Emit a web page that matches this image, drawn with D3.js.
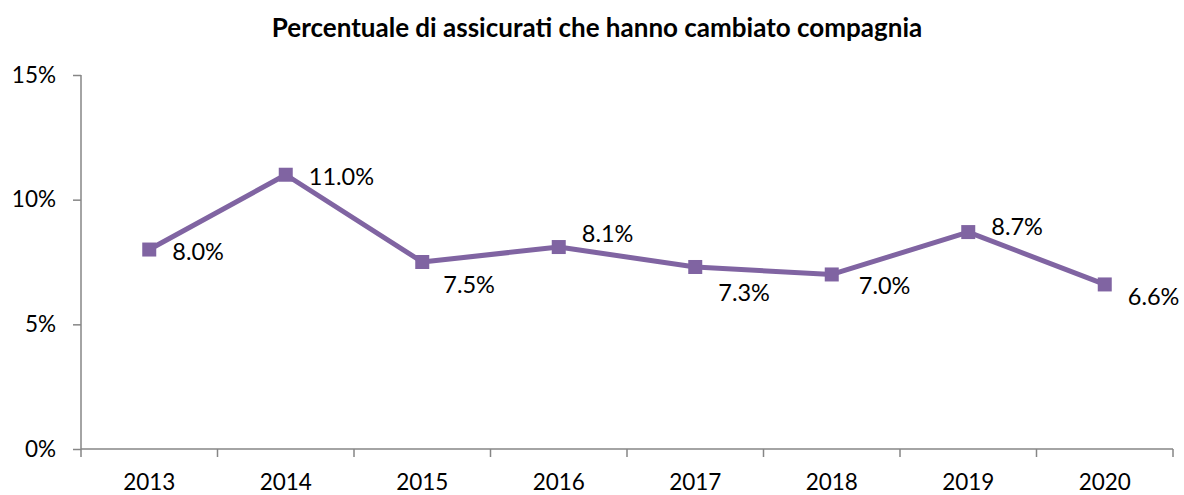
<!DOCTYPE html>
<html>
<head>
<meta charset="utf-8">
<script src="https://cdn.jsdelivr.net/npm/d3@7"></script>
<style>
  body { margin: 0; background: #fff; }
  svg text { font-family: Lato, "Open Sans", sans-serif; fill: #000; }
</style>
</head>
<body>
<div id="chart"></div>
<script>
// chart data
const years = ["2013", "2014", "2015", "2016", "2017", "2018", "2019", "2020"];
const switched = [8.0, 11.0, 7.5, 8.1, 7.3, 7.0, 8.7, 6.6];
const yTicks = [0, 5, 10, 15];
const title = "Percentuale di assicurati che hanno cambiato compagnia";

// label nudges, Excel places them by hand so each one differs
const labelNudge = [[23, 2], [23, 2], [21, 23], [23, -13], [23, 26], [27, 11], [23, -5], [23, 12]];

const W = 1184, H = 495;
const margin = { top: 75, right: 11, bottom: 46, left: 81 };
const purple = "#8064a2";
const axisGrey = "#868686";

const svg = d3.select("#chart").append("svg")
  .attr("width", W)
  .attr("height", H);

const x = d3.scaleBand()
  .domain(years)
  .range([margin.left, W - margin.right]);

const y = d3.scaleLinear()
  .domain([0, 15])
  .range([H - margin.bottom, margin.top]);

// title
svg.append("text")
  .attr("x", 597)
  .attr("y", 37)
  .attr("text-anchor", "middle")
  .style("font-size", "26px")
  .style("font-weight", "bold")
  .text(title);

// y axis
const yAxis = svg.append("g")
  .attr("transform", "translate(" + margin.left + ",0)")
  .call(d3.axisLeft(y).tickValues(yTicks).tickSize(8).tickPadding(17)
    .tickFormat(d => d + "%"));

// x axis, ticks sit on category edges
const edges = years.map(d => x(d)).concat([x.range()[1]]);
const xAxis = svg.append("g")
  .attr("transform", "translate(0," + y(0) + ")");
xAxis.append("line")
  .attr("x1", x.range()[0]).attr("x2", x.range()[1])
  .attr("stroke", axisGrey).attr("stroke-width", 1.5);
xAxis.selectAll("line.edge")
  .data(edges)
  .enter().append("line")
  .attr("class", "edge")
  .attr("x1", d => d).attr("x2", d => d)
  .attr("y1", 0).attr("y2", 8)
  .attr("stroke", axisGrey).attr("stroke-width", 1.5);
xAxis.selectAll("text")
  .data(years)
  .enter().append("text")
  .attr("x", d => x(d) + x.bandwidth() / 2)
  .attr("y", 41)
  .attr("text-anchor", "middle")
  .style("font-size", "22.5px")
  .text(d => d);

yAxis.select(".domain").attr("stroke", axisGrey).attr("stroke-width", 1.5);
yAxis.selectAll(".tick line").attr("stroke", axisGrey).attr("stroke-width", 1.5);
yAxis.selectAll(".tick text")
  .style("font-size", "22.5px")
  .attr("fill", "#000");
yAxis.select(".domain").attr("d", "M0," + y(15) + "V" + y(0));

// line + markers
const pts = years.map((d, i) => ({ year: d, v: switched[i], i: i }));
const cx = d => x(d.year) + x.bandwidth() / 2;

svg.append("path")
  .datum(pts)
  .attr("fill", "none")
  .attr("stroke", purple)
  .attr("stroke-width", 5)
  .attr("stroke-linejoin", "round")
  .attr("d", d3.line().x(cx).y(d => y(d.v)));

svg.selectAll("rect.mark")
  .data(pts)
  .enter().append("rect")
  .attr("class", "mark")
  .attr("x", d => cx(d) - 7)
  .attr("y", d => y(d.v) - 7)
  .attr("width", 14)
  .attr("height", 14)
  .attr("fill", purple);

svg.selectAll("text.lbl")
  .data(pts)
  .enter().append("text")
  .attr("class", "lbl")
  .attr("x", d => cx(d) + labelNudge[d.i][0])
  .attr("y", d => y(d.v) + labelNudge[d.i][1])
  .attr("dy", "0.35em")
  .style("font-size", "23.5px")
  .text(d => d.v.toFixed(1) + "%");
</script>
</body>
</html>
